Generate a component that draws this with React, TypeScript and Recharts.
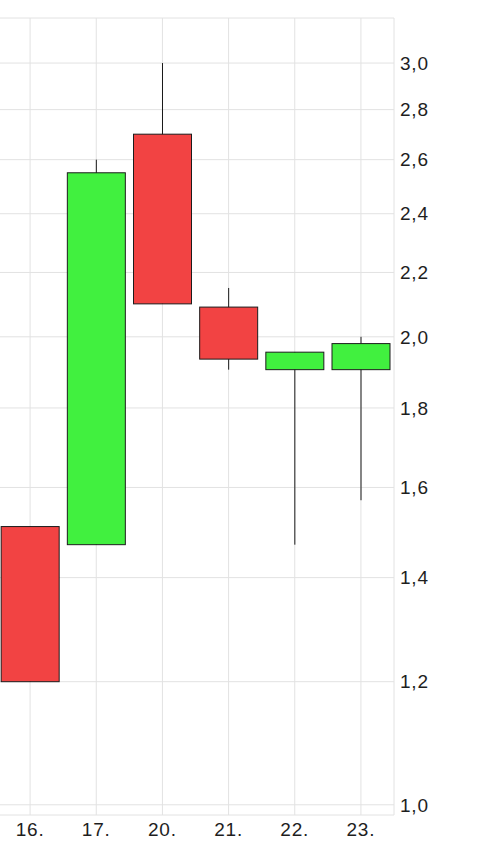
import { ComposedChart, Bar, XAxis, YAxis, CartesianGrid, ReferenceArea } from "recharts";

const days = ["16.", "17.", "20.", "21.", "22.", "23."];
const opens = [1.51, 1.47, 2.7, 2.09, 1.905, 1.905];
const closes = [1.2, 2.55, 2.1, 1.935, 1.955, 1.98];
const highs = [1.51, 2.6, 3.0, 2.15, 1.955, 2.0];
const lows = [1.2, 1.47, 2.1, 1.905, 1.47, 1.57];
const priceTicks = [1.0, 1.2, 1.4, 1.6, 1.8, 2.0, 2.2, 2.4, 2.6, 2.8, 3.0];
const priceDomain = [0.985, 3.207];

interface Candle {
  day: string;
  open: number;
  close: number;
  high: number;
  low: number;
}

const candles: Candle[] = days.map((day, i) => ({
  day,
  open: opens[i],
  close: closes[i],
  high: highs[i],
  low: lows[i],
}));

const UP = "#41f03f";
const DOWN = "#f24343";
const EDGE = "#1c1c1c";

/** Draws one candle inside the [low, high] range rectangle Recharts hands us. */
function CandleShape(props: any) {
  const { x, y, width, height, payload } = props;
  if (!payload || width == null) return null;
  const { open, close, high, low } = payload as Candle;
  const span = Math.log(high) - Math.log(low);
  // position of a value inside the bar, log scale
  const at = (v: number) => (span > 0 ? y + (height * (Math.log(high) - Math.log(v))) / span : y);
  const top = at(Math.max(open, close));
  const bottom = at(Math.min(open, close));
  const cx = x + width / 2;
  return (
    <g>
      <line x1={cx} x2={cx} y1={y} y2={y + height} stroke="#1a1a1a" strokeWidth={1} />
      <rect
        x={x}
        y={top}
        width={width}
        height={Math.max(bottom - top, 1)}
        fill={close >= open ? UP : DOWN}
        stroke={EDGE}
        strokeWidth={1}
      />
    </g>
  );
}

const tickStyle = {
  fontSize: 19,
  fill: "#1e1e1e",
  fontFamily: "'Liberation Sans', Arial, Helvetica, sans-serif",
  letterSpacing: 0.8,
};

export default function App() {
  return (
    <div style={{ position: "absolute", left: -3, top: 0 }}>
      <ComposedChart
        width={481}
        height={855}
        data={candles}
        margin={{ top: 18, right: 0, bottom: 0, left: 0 }}
        barCategoryGap="6.3%"
      >
        <CartesianGrid stroke="#e2e2e2" />
        <ReferenceArea fill="none" stroke="#e2e2e2" ifOverflow="visible" />
        <XAxis
          dataKey="day"
          height={40}
          tickLine={false}
          axisLine={false}
          tickSize={0}
          tickMargin={8}
          tick={tickStyle}
          interval={0}
        />
        <YAxis
          orientation="right"
          type="number"
          scale="log"
          domain={priceDomain}
          allowDataOverflow
          ticks={priceTicks}
          interval={0}
          width={84}
          tickLine={false}
          axisLine={false}
          tickSize={0}
          tickMargin={6}
          tick={tickStyle}
          tickFormatter={(v: number) => v.toFixed(1).replace(".", ",")}
        />
        <Bar
          dataKey={(d: Candle) => [d.low, d.high]}
          shape={<CandleShape />}
          isAnimationActive={false}
        />
      </ComposedChart>
    </div>
  );
}
